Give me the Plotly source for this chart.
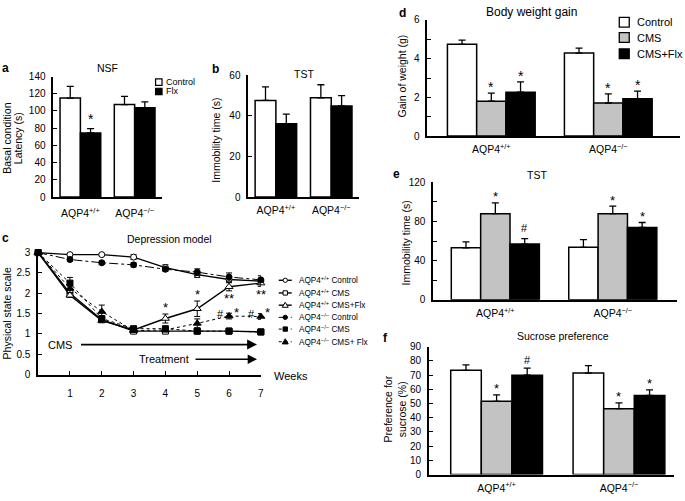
import plotly.graph_objects as go

W, H = 685, 501
FONT = "Liberation Sans, Arial, Helvetica, sans-serif"


def fx(px):
    return px / W


def fy(py):
    return 1 - py / H


# ---------------- data ----------------
groups = ["AQP4<sup>+/+</sup>", "AQP4<sup>−/−</sup>"]

# a: NSF
nsf_series = ["Control", "Flx"]
nsf_mean = {"Control": [115, 107.4], "Flx": [74.5, 103.7]}
nsf_err = {"Control": [13.6, 9.5], "Flx": [5, 6.8]}
nsf_sig = {"Control": ["", ""], "Flx": ["*", ""]}

# b: TST (basal)
tstb_series = ["Control", "Flx"]
tstb_mean = {"Control": [47.5, 48.8], "Flx": [36, 44.8]}
tstb_err = {"Control": [6.7, 6.4], "Flx": [4.8, 5.1]}

# c: depression model (physical state scale)
weeks = [0, 1, 2, 3, 4, 5, 6, 7]
week_ticks = [1, 2, 3, 4, 5, 6, 7]
wt_ctrl = [3.0, 2.95, 2.95, 2.89, 2.63, 2.46, 2.34, 2.30]
wt_ctrl_err = [0, 0.03, 0.03, 0.06, 0.07, 0.07, 0.06, 0.07]
wt_cms = [3.0, 2.0, 1.35, 1.07, 1.07, 1.07, 1.07, 1.05]
wt_cms_err = [0, 0.05, 0.04, 0.03, 0.03, 0.03, 0.03, 0.03]
wt_flx = [3.0, 1.95, 1.33, 1.10, 1.38, 1.62, 2.16, 2.25]
wt_flx_err = [0, 0.05, 0.05, 0.04, 0.11, 0.19, 0.10, 0.08]
ko_ctrl = [3.0, 2.83, 2.75, 2.70, 2.59, 2.52, 2.40, 2.33]
ko_ctrl_err = [0, 0.04, 0.04, 0.05, 0.05, 0.08, 0.10, 0.10]
ko_cms = [3.0, 2.25, 1.38, 1.13, 1.13, 1.07, 1.07, 1.05]
ko_cms_err = [0, 0.14, 0.05, 0.05, 0.04, 0.03, 0.03, 0.03]
ko_flx = [3.0, 2.12, 1.55, 1.08, 1.10, 1.26, 1.44, 1.43]
ko_flx_err = [0, 0.10, 0.16, 0.04, 0.05, 0.11, 0.07, 0.07]
wt_flx_sig_above = ["", "", "", "", "*", "*", "", ""]
wt_flx_sig_below = ["", "", "", "", "", "", "**", "**"]
ko_flx_hash = ["", "", "", "", "", "", "#", "#"]
ko_flx_star = ["", "", "", "", "", "", "*", "*"]

# d: body weight gain
cms_series = ["Control", "CMS", "CMS+Flx"]
bw_mean = {"Control": [4.74, 4.29], "CMS": [1.80, 1.71], "CMS+Flx": [2.27, 1.93]}
bw_err = {"Control": [0.22, 0.25], "CMS": [0.42, 0.47], "CMS+Flx": [0.53, 0.39]}
bw_sig = {"Control": ["", ""], "CMS": ["*", "*"], "CMS+Flx": ["*", "*"]}

# e: TST after CMS
tst_mean = {"Control": [53.2, 53.6], "CMS": [88, 88], "CMS+Flx": [56.9, 74]}
tst_err = {"Control": [6, 7.9], "CMS": [11, 7.8], "CMS+Flx": [5.6, 5]}
tst_sig = {"Control": ["", ""], "CMS": ["*", "*"], "CMS+Flx": ["#", "*"]}

# f: sucrose preference
suc_mean = {"Control": [73.3, 71.4], "CMS": [51.5, 46.3], "CMS+Flx": [69.9, 55.6]}
suc_err = {"Control": [3.9, 5.3], "CMS": [4.6, 4.1], "CMS+Flx": [5, 3.9]}
suc_sig = {"Control": ["", ""], "CMS": ["*", "*"], "CMS+Flx": ["#", "*"]}

# ---------------- styles ----------------
FILL = {"Control": "white", "CMS": "#c3c3c3", "CMS+Flx": "black", "Flx": "black"}
BARGAP = 0.25

fig = go.Figure()


def add_bars(s, series, means, errs):
    for name in series:
        fig.add_trace(go.Bar(
            x=groups, y=means[name], name=name,
            marker=dict(color=FILL[name], line=dict(color="black", width=1.5)),
            error_y=dict(type="data", array=errs[name], arrayminus=[0] * len(errs[name]),
                         symmetric=False, color="black", thickness=1.3, width=3.5),
            xaxis="x" + s, yaxis="y" + s, showlegend=False, hoverinfo="skip"))


def add_sig(s, series, means, errs, sigs, size=13, star_shift=6, hash_shift=9):
    n = len(series)
    w = (1 - BARGAP) / n
    for i, name in enumerate(series):
        for g in range(len(groups)):
            mark = sigs[name][g]
            if not mark:
                continue
            xpos = g - (1 - BARGAP) / 2 + (i + 0.5) * w
            ypos = means[name][g] + errs[name][g]
            fig.add_annotation(x=xpos, y=ypos, xref="x" + s, yref="y" + s, text=mark,
                               showarrow=False, yanchor="middle",
                               yshift=star_shift if mark.startswith("*") else hash_shift,
                               font=dict(family=FONT, size=size if mark.startswith("*") else 11,
                                         color="black"))


add_bars("", nsf_series, nsf_mean, nsf_err)
add_sig("", nsf_series, nsf_mean, nsf_err, nsf_sig, size=14, star_shift=10)
add_bars("2", tstb_series, tstb_mean, tstb_err)
add_bars("4", cms_series, bw_mean, bw_err)
add_sig("4", cms_series, bw_mean, bw_err, bw_sig, size=14, star_shift=6)
add_bars("5", cms_series, tst_mean, tst_err)
add_sig("5", cms_series, tst_mean, tst_err, tst_sig, size=13, star_shift=6, hash_shift=11)
add_bars("6", cms_series, suc_mean, suc_err)
add_sig("6", cms_series, suc_mean, suc_err, suc_sig, size=13, star_shift=6, hash_shift=8)

# ---- c lines ----
line_series = [
    ("ctrl_wt", wt_ctrl, wt_ctrl_err, "solid", 1.4, "circle", "white"),
    ("cms_wt", wt_cms, wt_cms_err, "solid", 1.4, "square", "white"),
    ("flx_wt", wt_flx, wt_flx_err, "solid", 1.4, "triangle-up", "white"),
    ("ctrl_ko", ko_ctrl, ko_ctrl_err, "dashdot", 1.0, "circle", "black"),
    ("cms_ko", ko_cms, ko_cms_err, "dot", 1.0, "square", "black"),
    ("flx_ko", ko_flx, ko_flx_err, "dot", 1.0, "triangle-up", "black"),
]
for name, vals, errs, dash, lw, sym, mcol in line_series:
    fig.add_trace(go.Scatter(
        x=weeks, y=vals, name=name, mode="lines+markers",
        line=dict(color="black", width=lw, dash=dash),
        marker=dict(symbol=sym, size=6 if sym != "triangle-up" else 7, color=mcol,
                    line=dict(color="black", width=1)),
        error_y=dict(type="data", array=errs, color="black", thickness=1, width=3),
        cliponaxis=False, xaxis="x3", yaxis="y3", showlegend=False, hoverinfo="skip"))

sfont = dict(family=FONT, size=13, color="black")
for i, wk in enumerate(weeks):
    if wt_flx_sig_above[i]:
        fig.add_annotation(x=wk, y=wt_flx[i] + wt_flx_err[i], xref="x3", yref="y3",
                           text=wt_flx_sig_above[i], showarrow=False, yanchor="middle",
                           yshift=7, font=sfont)
    if wt_flx_sig_below[i]:
        fig.add_annotation(x=wk, y=wt_flx[i] - wt_flx_err[i], xref="x3", yref="y3",
                           text=wt_flx_sig_below[i], showarrow=False, yanchor="middle",
                           yshift=-8, font=sfont)
    if ko_flx_hash[i]:
        fig.add_annotation(x=wk, y=ko_flx[i], xref="x3", yref="y3", text=ko_flx_hash[i],
                           showarrow=False, xanchor="center", yanchor="middle",
                           xshift=-9, yshift=2, font=dict(family=FONT, size=11))
    if ko_flx_star[i]:
        fig.add_annotation(x=wk, y=ko_flx[i], xref="x3", yref="y3", text=ko_flx_star[i],
                           showarrow=False, xanchor="center", yanchor="middle",
                           xshift=7, yshift=4, font=sfont)

# CMS / Treatment arrows
fig.add_annotation(x=6.88, y=0.74, ax=1.3, ay=0.74, xref="x3", yref="y3",
                   axref="x3", ayref="y3", text="", showarrow=True, arrowhead=2,
                   arrowsize=1.1, arrowwidth=1.8, arrowcolor="black")
fig.add_annotation(x=6.88, y=0.38, ax=4.9, ay=0.38, xref="x3", yref="y3",
                   axref="x3", ayref="y3", text="", showarrow=True, arrowhead=2,
                   arrowsize=1.25, arrowwidth=1.5, arrowcolor="black")
fig.add_annotation(x=0.68, y=0.74, xref="x3", yref="y3", text="CMS", showarrow=False,
                   font=dict(family=FONT, size=11))
fig.add_annotation(x=3.96, y=0.38, xref="x3", yref="y3", text="Treatment", showarrow=False,
                   font=dict(family=FONT, size=11))

# ---------------- axes ----------------
AX = dict(showline=True, linecolor="black", linewidth=1.5, mirror=False, showgrid=False,
          zeroline=False, tickfont=dict(family=FONT, size=10, color="black"),
          ticks="inside", ticklen=4, tickwidth=1.2, tickcolor="black")
XB = dict(AX, type="category", ticks="", tickfont=dict(family=FONT, size=10.5, color="black"))
MINOR = dict(ticks="inside", ticklen=4, tickwidth=1.2, tickcolor="black", showgrid=False)


def yax(py_top, py_bot, rng, **kw):
    d = dict(AX, domain=[fy(py_bot), fy(py_top)], range=rng, ticklabelstandoff=4)
    d.update(kw)
    return d


def xax(px_l, px_r, rng, base=XB, **kw):
    d = dict(base, domain=[fx(px_l), fx(px_r)], range=rng)
    d.update(kw)
    return d


layout_axes = dict(
    xaxis=xax(53.5, 162.5, [-0.5, 1.5], anchor="y", ticklabelstandoff=6),
    yaxis=yax(72.3, 195.7, [0, 140], anchor="x", tick0=0, dtick=20),
    xaxis2=xax(249.3, 360.5, [-0.5, 1.5], anchor="y2", ticklabelstandoff=3),
    yaxis2=yax(70.7, 195.7, [0, 60], anchor="x2", tick0=0, dtick=20),
    xaxis3=xax(38.3, 262, [0, 7], base=AX, anchor="y3", tickvals=week_ticks,
               ticklabelstandoff=9),
    yaxis3=yax(251.4, 377.7, [0, 3.03], anchor="x3", tick0=0, dtick=0.5),
    xaxis4=xax(429.3, 683, [-0.546, 1.613], anchor="y4", ticklabelstandoff=3),
    yaxis4=yax(14.3, 133.3, [0, 6], anchor="x4", tick0=0, dtick=2,
               minor=dict(MINOR, dtick=1)),
    xaxis5=xax(435, 680, [-0.53, 1.547], anchor="y5", ticklabelstandoff=3),
    yaxis5=yax(180.7, 301, [0, 120], anchor="x5", tick0=0, dtick=40,
               minor=dict(MINOR, dtick=20)),
    xaxis6=xax(430.7, 677, [-0.554, 1.45], anchor="y6", ticklabelstandoff=3),
    yaxis6=yax(349, 480, [0, 90], anchor="x6", tick0=0, dtick=10),
)

# ---------------- paper texts ----------------
ann = []


def ptext(px, py, text, size=10.5, bold=False, angle=0, xanchor="center", yanchor="middle"):
    ann.append(dict(x=fx(px), y=fy(py), xref="paper", yref="paper", text=text,
                    showarrow=False, textangle=angle, xanchor=xanchor, yanchor=yanchor,
                    font=dict(family=FONT, size=size, color="black",
                              weight="bold" if bold else "normal")))


# panel letters
ptext(6, 64, "a", 12, True)
ptext(216, 65, "b", 12, True)
ptext(6, 238, "c", 12, True)
ptext(404, 7, "d", 12, True)
ptext(398, 172, "e", 12, True)
ptext(387, 340, "f", 12, True)

# titles
ptext(108, 64, "NSF", 10.5)
ptext(305, 70, "TST", 10.5)
ptext(170, 239, "Depression model", 10.5)
ptext(534, 6, "Body weight gain", 12)
ptext(539, 173, "TST", 10.5)
ptext(565, 338, "Sucrose preference", 10.5)

# axis titles
ptext(7, 135, "Basal condition", 10.5, angle=-90)
ptext(17.5, 135, "Latency (s)", 10.5, angle=-90)
ptext(217, 138, "Immobility time (s)", 10.5, angle=-90)
ptext(7, 315, "Physical state scale", 10.5, angle=-90)
ptext(404, 72, "Gain of weight (g)", 10.5, angle=-90)
ptext(408, 243, "Immobility time (s)", 10.5, angle=-90)
ptext(390, 413, "Preference for", 10.5, angle=-90)
ptext(404, 413, "sucrose (%)", 10.5, angle=-90)
ptext(273, 379, "Weeks", 11, xanchor="left")

# ---------------- manual legends ----------------
shapes = []


def sq(cx, cy, size, fill, lw=1.2):
    h = size / 2
    shapes.append(dict(type="rect", xref="paper", yref="paper",
                       x0=fx(cx - h), x1=fx(cx + h), y0=fy(cy + h), y1=fy(cy - h),
                       fillcolor=fill, line=dict(color="black", width=lw)))


# legend a
for name, cy in zip(nsf_series, [78, 87.5]):
    sq(159.5, cy, 6.5, FILL[name])
    ptext(165, cy, name, 9, xanchor="left")

# legend d
for name, cy in zip(cms_series, [16.7, 32.3, 49]):
    sq(627, cy, 10, FILL[name], lw=1.3)
    ptext(638, cy, name, 11, xanchor="left")

# legend c
leg_rows = [281, 294, 306.5, 319, 331, 344]
leg_text = ["AQP4<sup>+/+</sup> Control", "AQP4<sup>+/+</sup> CMS", "AQP4<sup>+/+</sup> CMS+Flx",
            "AQP4<sup>−/−</sup> Control", "AQP4<sup>−/−</sup> CMS", "AQP4<sup>−/−</sup> CMS+ Flx"]
for (name, vals, errs, dash, lw, sym, mcol), cy, txt in zip(line_series, leg_rows, leg_text):
    shapes.append(dict(type="line", xref="paper", yref="paper", x0=fx(280), x1=fx(293),
                       y0=fy(cy), y1=fy(cy), line=dict(color="black", width=lw, dash=dash)))
    r = 2.2
    if sym == "circle":
        shapes.append(dict(type="circle", xref="paper", yref="paper",
                           x0=fx(286.5 - r), x1=fx(286.5 + r), y0=fy(cy + r), y1=fy(cy - r),
                           fillcolor=mcol, line=dict(color="black", width=1)))
    elif sym == "square":
        sq(286.5, cy, 4.4, mcol, lw=1)
    else:
        path = "M {} {} L {} {} L {} {} Z".format(fx(286.5 - 3), fy(cy + 2.2), fx(286.5 + 3),
                                                   fy(cy + 2.2), fx(286.5), fy(cy - 3))
        shapes.append(dict(type="path", xref="paper", yref="paper", path=path,
                           fillcolor=mcol, line=dict(color="black", width=1)))
    ptext(298, cy, txt, 8.2, xanchor="left")

fig.update_layout(
    width=W, height=H, margin=dict(l=0, r=0, t=0, b=0),
    paper_bgcolor="white", plot_bgcolor="white",
    barmode="group", bargap=BARGAP, bargroupgap=0,
    showlegend=False, font=dict(family=FONT, color="black"),
    shapes=shapes,
    **layout_axes,
)
for a in ann:
    fig.add_annotation(**a)

fig.write_html("out.html", config={"displayModeBar": False},
               post_script="document.body.style.margin='0';document.body.style.overflow='hidden';")
